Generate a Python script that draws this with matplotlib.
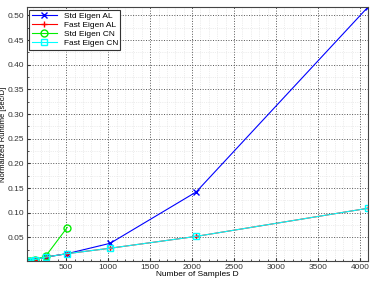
import numpy as np
import matplotlib
matplotlib.use("Agg")
import matplotlib.pyplot as plt
from matplotlib.ticker import MultipleLocator

samples = [32, 64, 128, 256, 512, 1024, 2048, 4096]
std_al = [0.002, 0.003, 0.005, 0.010, 0.017, 0.038, 0.142, 0.517]
fast_al = [0.002, 0.003, 0.005, 0.010, 0.017, 0.028, 0.052, 0.109]
samples_cn = [32, 64, 128, 256, 512]
std_cn = [0.002, 0.003, 0.005, 0.012, 0.070]
fast_cn = [0.002, 0.003, 0.005, 0.010, 0.017, 0.028, 0.052, 0.109]

plt.rcParams["font.family"] = ["Liberation Sans", "DejaVu Sans"]
plt.rcParams["font.size"] = 6

fig = plt.figure(figsize=(3.74, 2.81), dpi=100)
ax = fig.add_axes([0.072, 0.071, 0.912, 0.904])

ax.plot(samples, std_al, color="blue", marker="x", markersize=4, linewidth=0.8, label="Std Eigen AL")
ax.plot(samples, fast_al, color="red", marker="+", markersize=5, linewidth=0.8, label="Fast Eigen AL")
ax.plot(samples_cn, std_cn, color="#00ee00", marker="o", markersize=5, markerfacecolor="none",
        linewidth=0.8, label="Std Eigen CN")
ax.plot(samples, fast_cn, color="cyan", marker="s", markersize=4, markerfacecolor="none",
        linewidth=0.8, label="Fast Eigen CN")

ax.set_xlim(samples[0], samples[-1])
ax.set_ylim(min(std_al), max(std_al))
ax.xaxis.set_major_locator(MultipleLocator(500))
ax.yaxis.set_major_locator(MultipleLocator(0.05))
ax.xaxis.set_minor_locator(MultipleLocator(100))
ax.yaxis.set_minor_locator(MultipleLocator(0.025))

ax.grid(True, which="major", color="#555555", linestyle=":", linewidth=0.7)
ax.grid(True, which="minor", color="#dddddd", linestyle=":", linewidth=0.5)
ax.tick_params(which="both", direction="in", colors="#333333", length=2.5)
ax.tick_params(which="minor", length=1.5)
ax.tick_params(labelsize=6, pad=2)
for s in ax.spines.values():
    s.set_color("#444444")
    s.set_linewidth(0.8)

ax.set_xlabel("Number of Samples D", labelpad=0)
ax.set_ylabel("Normalized Runtime [sec/D]", fontsize=5.5)
ax.yaxis.set_label_coords(-0.058, 0.5)

leg = ax.legend(loc="upper left", fontsize=6, fancybox=False, framealpha=1,
                edgecolor="#333333", borderaxespad=0.3, handlelength=3,
                labelspacing=0.15, borderpad=0.3)
leg.get_frame().set_linewidth(0.8)

fig.savefig("out.png", dpi=100)
